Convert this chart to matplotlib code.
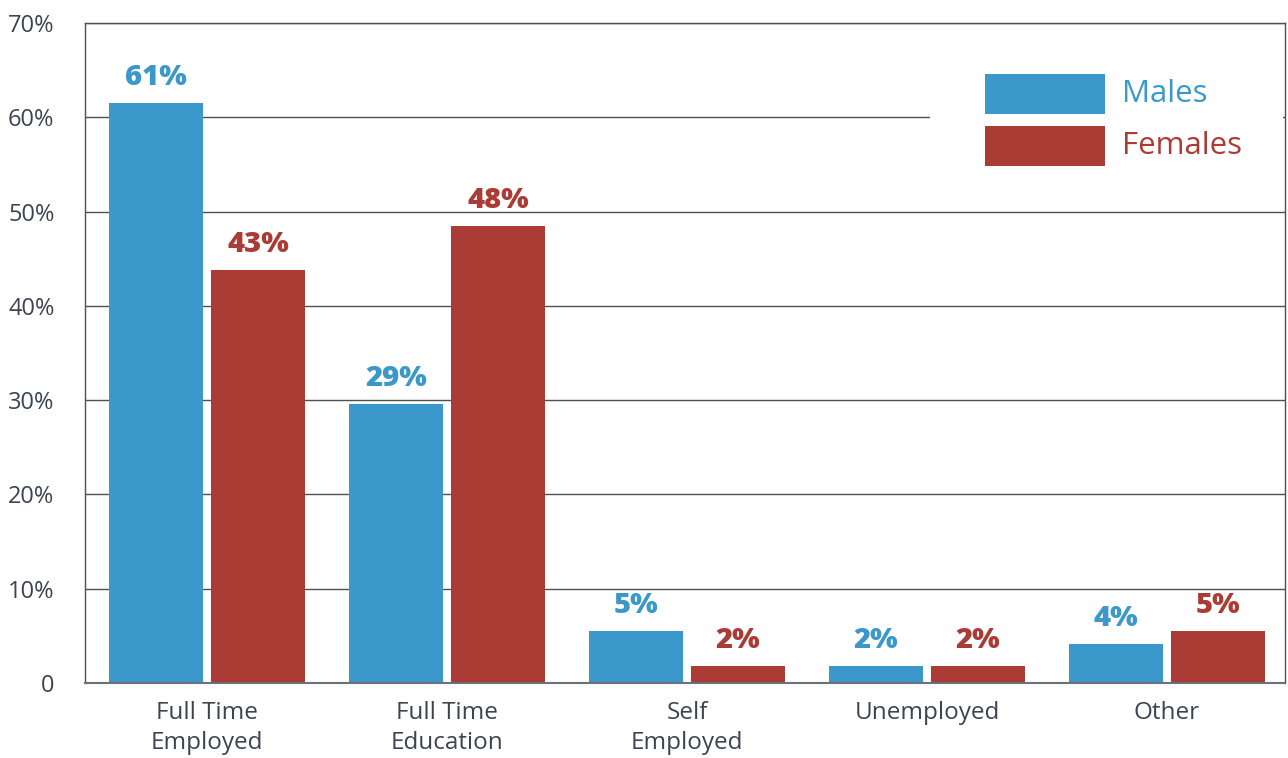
import matplotlib
matplotlib.use("Agg")
import matplotlib.pyplot as plt
from matplotlib.patches import Rectangle
import numpy as np

plt.rcParams['font.family'] = ['Open Sans', 'DejaVu Sans']

categories = ["Full Time\nEmployed", "Full Time\nEducation", "Self\nEmployed", "Unemployed", "Other"]
males = [61.5, 29.6, 5.5, 1.8, 4.1]
females = [43.8, 48.5, 1.8, 1.8, 5.5]
males_labels = ["61%", "29%", "5%", "2%", "4%"]
females_labels = ["43%", "48%", "2%", "2%", "5%"]
yticks = [0, 10, 20, 30, 40, 50, 60, 70]
ytick_labels = ["0", "10%", "20%", "30%", "40%", "50%", "60%", "70%"]

blue = "#3A98CA"
red = "#AA3B35"
txt = "#3d4451"
line = "#4a4f59"

fig = plt.figure(figsize=(12.88, 7.58), dpi=100)
ax = fig.add_axes([0.066, 0.099, 0.9317, 0.8707])

x = np.arange(len(categories))
w = 0.39
off = 0.2125
b1 = ax.bar(x - off, males, w, color=blue, zorder=2)
b2 = ax.bar(x + off, females, w, color=red, zorder=2)

for rect, lab in zip(b1, males_labels):
    ax.annotate(lab, (rect.get_x() + rect.get_width() / 2, rect.get_height()),
                xytext=(0, 13), textcoords="offset points", ha="center", va="baseline",
                fontsize=21, fontweight="heavy", color=blue)
for rect, lab in zip(b2, females_labels):
    ax.annotate(lab, (rect.get_x() + rect.get_width() / 2, rect.get_height()),
                xytext=(0, 13), textcoords="offset points", ha="center", va="baseline",
                fontsize=21, fontweight="heavy", color=red)

ax.set_xlim(-0.508, len(categories) - 0.508)
ax.set_ylim(0, 70)
ax.set_yticks(yticks)
ax.set_yticklabels(ytick_labels)
ax.set_xticks(x)
ax.set_xticklabels(categories, linespacing=1.35)
ax.tick_params(axis="y", length=0, pad=22, labelsize=17, labelcolor=txt)
ax.tick_params(axis="x", length=0, pad=13, labelsize=17.5, labelcolor=txt)

ax.set_axisbelow(True)
ax.yaxis.grid(True, color=line, linewidth=1.0)
for s in ax.spines.values():
    s.set_color(line)
    s.set_linewidth(1.0)
ax.spines["bottom"].set_color("#6b7079")
ax.spines["bottom"].set_linewidth(1.5)

# legend drawn by hand, white box hides the gridline behind it
ax.add_patch(Rectangle((0.704, 0.762), 0.294, 0.197, transform=ax.transAxes,
                       facecolor="white", edgecolor="none", zorder=1.5))
ax.add_patch(Rectangle((0.75, 0.862), 0.1, 0.0606, transform=ax.transAxes,
                       facecolor=blue, edgecolor="none", zorder=3))
ax.add_patch(Rectangle((0.75, 0.783), 0.1, 0.0606, transform=ax.transAxes,
                       facecolor=red, edgecolor="none", zorder=3))
ax.text(0.864, 0.892, "Males", transform=ax.transAxes, fontsize=22.5, color=blue,
        va="center", ha="left", zorder=3)
ax.text(0.864, 0.814, "Females", transform=ax.transAxes, fontsize=22.5, color=red,
        va="center", ha="left", zorder=3)

fig.savefig("out.png", dpi=100)
